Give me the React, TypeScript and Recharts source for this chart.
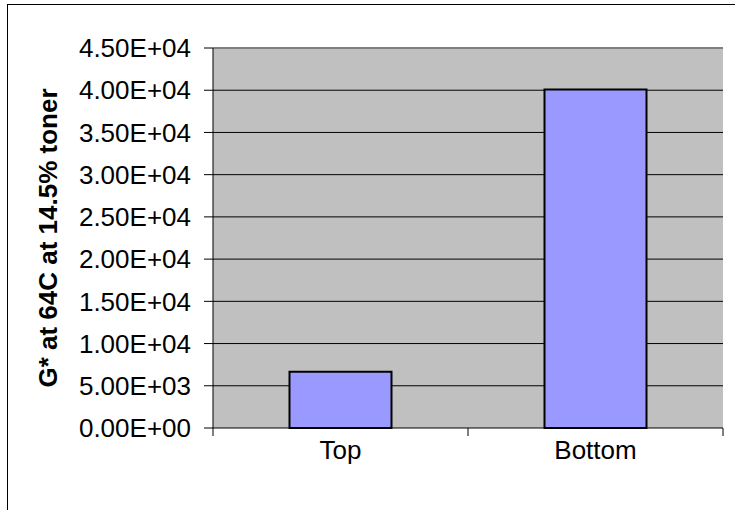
import React from 'react';
import {
    BarChart,
    Bar,
    XAxis,
    YAxis,
    CartesianGrid,
    ReferenceLine,
} from 'recharts';

const categories = ['Top', 'Bottom'];
const gValues = [6650, 40100];
const yTicks = [0, 5000, 10000, 15000, 20000, 25000, 30000, 35000, 40000, 45000];
const gridValues = [5000, 10000, 15000, 20000, 25000, 30000, 35000, 40000];

const data = categories.map((name, i) => ({ name, g: gValues[i] }));

const FONT = 'Arial, "Liberation Sans", sans-serif';
const LABEL_GAP = 13;

// Excel style: 4.50E+04
function sci(v: number) {
    const [m, e] = v.toExponential(2).split('e');
    const sign = e[0] === '-' ? '-' : '+';
    const digits = e.replace(/[+-]/, '').padStart(2, '0');
    return `${m}E${sign}${digits}`;
}

function AxisTitle(props: any) {
    const { viewBox } = props;
    const cy = viewBox ? viewBox.y + viewBox.height / 2 : 238;
    return (
        <text
            x={48}
            y={cy}
            transform={`rotate(-90, 48, ${cy})`}
            textAnchor="middle"
            dominantBaseline="central"
            fontFamily={FONT}
            fontWeight="bold"
            fontSize={26}
            fill="#000"
        >
            G* at 64C at 14.5% toner
        </text>
    );
}

// category label plus Excel-like tick marks between categories
function CategoryTick(props: any) {
    const { x, y, payload, index, visibleTicksCount } = props;
    const half = payload?.offset ?? 0;
    const axisY = y - LABEL_GAP;
    const last = index === (visibleTicksCount ?? categories.length) - 1;
    return (
        <g>
            <line x1={x - half} x2={x - half} y1={axisY} y2={axisY + 8} stroke="#000" />
            {last && (
                <line x1={x + half} x2={x + half} y1={axisY} y2={axisY + 8} stroke="#000" />
            )}
            <text
                x={x}
                y={y}
                dy="0.71em"
                textAnchor="middle"
                fontFamily={FONT}
                fontSize={26}
                fill="#000"
            >
                {payload.value}
            </text>
        </g>
    );
}

export default function App() {
    return (
        <div
            style={{
                position: 'absolute',
                left: 0,
                top: 0,
                width: 735,
                height: 510,
                overflow: 'hidden',
                background: '#fff',
            }}
        >
            <div
                style={{
                    position: 'absolute',
                    left: 7,
                    top: 4,
                    width: 800,
                    height: 600,
                    borderLeft: '1px solid #000',
                    borderTop: '1px solid #000',
                }}
            />
            <div style={{ position: 'absolute', left: 0, top: 0 }}>
                <BarChart
                    width={735}
                    height={510}
                    data={data}
                    margin={{ top: 48, right: 12, bottom: 42, left: 0 }}
                    barCategoryGap="30%"
                >
                    <CartesianGrid
                        horizontal
                        vertical={false}
                        fill="#C0C0C0"
                        fillOpacity={1}
                        stroke="#000"
                        horizontalValues={gridValues}
                    />
                    <XAxis
                        xAxisId="edge"
                        type="number"
                        domain={[0, 2]}
                        allowDataOverflow
                        hide
                    />
                    <XAxis
                        xAxisId="cat"
                        dataKey="name"
                        height={40}
                        tickLine={false}
                        tickSize={0}
                        tickMargin={LABEL_GAP}
                        axisLine={{ stroke: '#000' }}
                        tick={<CategoryTick />}
                        interval={0}
                    />
                    <YAxis
                        width={213}
                        domain={[0, 45000]}
                        ticks={yTicks}
                        interval={0}
                        tickFormatter={sci}
                        tickSize={9}
                        tickMargin={13}
                        axisLine={{ stroke: '#000' }}
                        tickLine={{ stroke: '#000' }}
                        tick={{ fontSize: 26, fill: '#000', fontFamily: FONT }}
                        label={<AxisTitle />}
                    />
                    <ReferenceLine y={45000} xAxisId="cat" stroke="#808080" strokeWidth={2} />
                    <ReferenceLine x={2} xAxisId="edge" stroke="#808080" strokeWidth={2} />
                    <Bar
                        dataKey="g"
                        xAxisId="cat"
                        fill="#9999FF"
                        stroke="#000"
                        strokeWidth={2}
                        isAnimationActive={false}
                    />
                </BarChart>
            </div>
        </div>
    );
}
